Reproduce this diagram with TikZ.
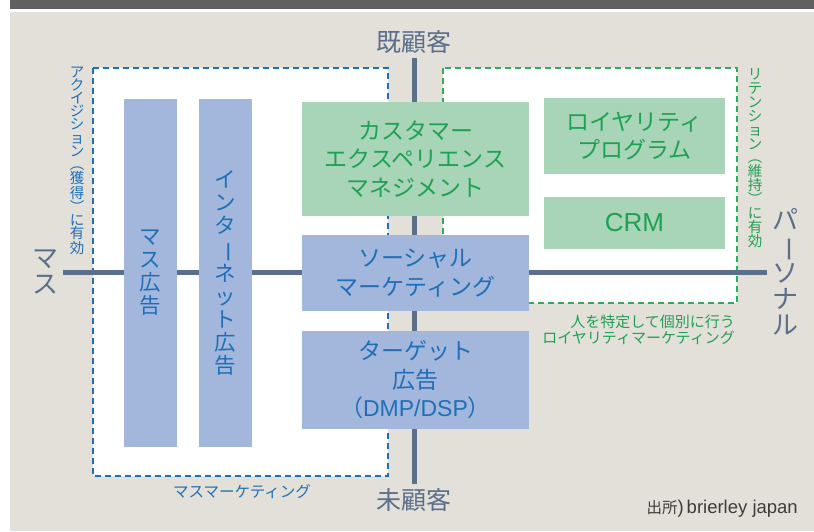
\documentclass[tikz,border=0pt]{standalone}
\usepackage{fontspec}
\usepackage{graphicx}
\setmainfont{Noto Sans CJK JP}
\newfontfamily\latf{Liberation Sans}
\newcommand\tatebo{\rotatebox[origin=c]{-90}{ー}}
\definecolor{bgc}{HTML}{E3E0DA}
\definecolor{hdrc}{HTML}{606060}
\definecolor{axisc}{HTML}{5B6E8A}
\definecolor{fillblue}{HTML}{A3B7DC}
\definecolor{fillgreen}{HTML}{A8D5B8}
\definecolor{tblue}{HTML}{1F6FB8}
\definecolor{tgreen}{HTML}{1EA152}
\definecolor{dblue}{HTML}{1F6FB8}
\definecolor{dgreen}{HTML}{2BAF5F}
\definecolor{srcc}{HTML}{3C3C3C}
\begin{document}
\begin{tikzpicture}[x=1pt,y=-1pt,
  bluebox/.style={rectangle, fill=fillblue, inner sep=0pt, text=tblue, align=center, font=\fontsize{23}{28.5}\selectfont},
  greenbox/.style={rectangle, fill=fillgreen, inner sep=0pt, text=tgreen, align=center, font=\fontsize{23}{28.5}\selectfont},
  vbar/.style={bluebox, font=\fontsize{21.5}{23}\selectfont},
  axislabel/.style={text=axisc, inner sep=0pt, align=center, font=\fontsize{25}{26}\selectfont},
  vaxislabel/.style={text=axisc, inner sep=0pt, align=center, font=\fontsize{26}{26}\selectfont},
  vsmallB/.style={text=tblue, inner sep=0pt, align=center, font=\fontsize{14.5}{13.2}\selectfont},
  vsmallG/.style={text=tgreen, inner sep=0pt, align=center, font=\fontsize{14.5}{13.9}\selectfont},
  axisline/.style={draw=axisc, line width=5pt},
  bluedash/.style={draw=dblue, fill=white, line width=1.5pt, dash pattern=on 6pt off 4pt},
  greendash/.style={draw=dgreen, fill=white, line width=1.5pt, dash pattern=on 6pt off 4pt}
]
\useasboundingbox (0,0) rectangle (814,531);
\fill[white] (0,0) rectangle (814,531);
\fill[bgc] (10,12) rectangle (814,531);
\fill[hdrc] (10,0) rectangle (814,8.5);

% dashed frames
\draw[bluedash] (93,68) rectangle (388,476);
\draw[greendash] (443,68) rectangle (737,303);

% axes
\coordinate (axT) at (414,58);
\coordinate (axB) at (414,484);
\coordinate (axL) at (63,272);
\coordinate (axR) at (767,272);
\draw[axisline] (axT) -- (axB);
\draw[axisline] (axL) -- (axR);

% bars
\node[vbar, minimum width=53pt, minimum height=348pt] (massad) at (150.5,273) {マ\\ス\\広\\告};
\node[vbar, minimum width=53pt, minimum height=348pt] (netad) at (225.5,273) {イ\\ン\\タ\\\tatebo\\ネ\\ッ\\ト\\広\\告};

% center boxes
\node[greenbox, minimum width=227pt, minimum height=114pt] (cxm) at (415.5,159) {カスタマー\\エクスペリエンス\\マネジメント};
\node[bluebox, minimum width=227pt, minimum height=76pt] (social) at (415.5,273) {ソーシャル\\マーケティング};
\node[bluebox, minimum width=227pt, minimum height=98pt] (target) at (415.5,380) {ターゲット\\広告\\（{\latf DMP/DSP}）};

% right boxes
\node[greenbox, minimum width=181pt, minimum height=76pt] (loyal) at (634.5,136) {ロイヤリティ\\プログラム};
\node[greenbox, minimum width=181pt, minimum height=52pt, font=\fontsize{26}{28}\latf] (crm) at (634.5,223) {CRM};

% axis labels
\node[axislabel] (kizon) at (414,42) {既顧客};
\node[axislabel] (mikokyaku) at (414,500) {未顧客};
\node[vaxislabel] (mass) at (45,272) {マ\\ス};
\node[vaxislabel] (personal) at (785,272) {パ\\\tatebo\\ソ\\ナ\\ル};

% side labels
\node[vsmallB] (acq) at (77,160.5) {ア\\ク\\イ\\ジ\\シ\\ョ\\ン\\︵\\獲\\得\\︶\\に\\有\\効};
\node[vsmallG] (ret) at (755,158) {リ\\テ\\ン\\シ\\ョ\\ン\\︵\\維\\持\\︶\\に\\有\\効};
\node[text=tblue, inner sep=0pt, font=\fontsize{15.5}{16}\selectfont] (massmkt) at (242,492) {マスマーケティング};
\node[text=tgreen, inner sep=0pt, align=right, anchor=east, font=\fontsize{15}{16.5}\selectfont] (loyalmkt) at (735,330) {人を特定して個別に行う\\ロイヤリティマーケティング};
\node[text=srcc, inner sep=0pt, anchor=east, font=\fontsize{15.5}{17}\selectfont] (src) at (798,509) {出所{\latf\fontsize{18.5}{20}\selectfont )\,brierley japan}};
\end{tikzpicture}
\end{document}
